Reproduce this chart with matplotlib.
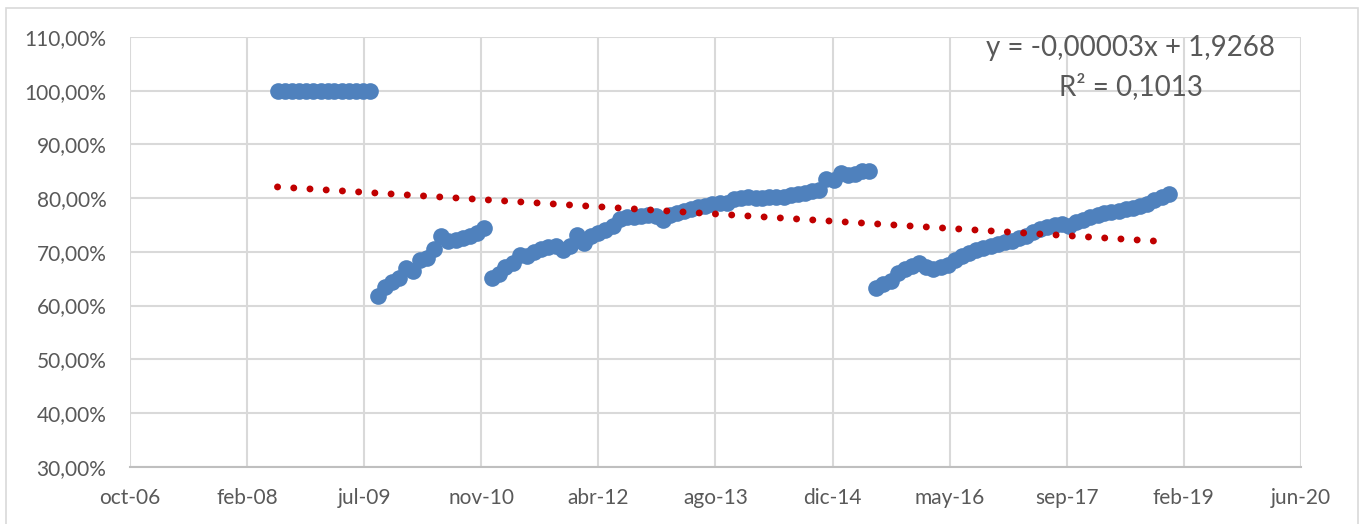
import numpy as np
import pandas as pd
import matplotlib
matplotlib.use("Agg")
import matplotlib.pyplot as plt
from matplotlib.patches import Rectangle

# monthly series, jul-2008 .. dic-2018
start_month = "2008-07"
rate = [
    # 2008-07 .. 2009-08
    100.0, 100.0, 100.0, 100.0, 100.0, 100.0, 100.0,
    100.0, 100.0, 100.0, 100.0, 100.0, 100.0, 100.0,
    # 2009-09 .. 2010-12
    61.8, 63.4, 64.4, 65.2, 67.0, 66.4, 68.5, 68.8,
    70.5, 72.9, 72.1, 72.2, 72.5, 72.9, 73.5, 74.4,
    # 2011-01 .. 2015-06
    65.1, 65.9, 67.2, 67.9, 69.5, 69.2, 69.9, 70.5, 70.9, 71.0,
    70.3, 71.0, 73.2, 71.7, 73.0, 73.5, 74.0, 74.8, 76.1, 76.4,
    76.5, 76.7, 76.8, 76.6, 75.9, 76.8, 77.2, 77.6, 78.0, 78.3,
    78.6, 78.9, 79.1, 79.0, 79.9, 80.1, 80.2, 80.1, 80.0, 80.2,
    80.2, 80.3, 80.5, 80.7, 81.0, 81.3, 81.6, 83.5, 83.3, 84.6,
    84.3, 84.5, 85.0, 85.1,
    # 2015-07 .. 2018-12
    63.3, 64.0, 64.6, 66.1, 66.8, 67.4, 67.9, 67.2, 66.8, 67.1,
    67.6, 68.5, 69.2, 69.8, 70.3, 70.7, 71.0, 71.4, 71.8, 72.0,
    72.5, 72.9, 73.6, 74.2, 74.7, 75.0, 75.2, 74.9, 75.5, 76.0,
    76.4, 76.8, 77.2, 77.4, 77.6, 77.9, 78.2, 78.5, 78.9, 79.6,
    80.3, 80.8,
]

x_ticks = [39000, 39500, 40000, 40500, 41000, 41500, 42000, 42500, 43000, 43500, 44000]
x_labels = ["oct-06", "feb-08", "jul-09", "nov-10", "abr-12", "ago-13",
            "dic-14", "may-16", "sep-17", "feb-19", "jun-20"]
y_ticks = [0.3, 0.4, 0.5, 0.6, 0.7, 0.8, 0.9, 1.0, 1.1]
y_labels = ["30,00%", "40,00%", "50,00%", "60,00%", "70,00%", "80,00%",
            "90,00%", "100,00%", "110,00%"]

eq_text = "y = -0,00003x + 1,9268"
r2_text = "R² = 0,1013"

dates = pd.date_range(start_month, periods=len(rate), freq="MS")
xs = np.array((dates - pd.Timestamp("1899-12-30")).days, dtype=float)
ys = np.array(rate) / 100.0

# linear trend (Excel style)
slope, icpt = np.polyfit(xs, ys, 1)
tx = np.array([xs[0], xs[-1]])
ty = slope * tx + icpt

plt.rcParams["font.family"] = ["Lato", "DejaVu Sans"]
grey_txt = "#595959"
grid_c = "#D9D9D9"

fig = plt.figure(figsize=(13.68, 5.24), dpi=100)
ax = fig.add_axes([0.095, 0.1094, 0.856, 0.82])

ax.plot(xs, ys, "o", color="#4F81BD", ms=12, mew=0, zorder=3)
ax.plot(tx, ty, color="#C00000", lw=5, linestyle=(0, (0.01, 2.33)),
        dash_capstyle="round", zorder=4)

ax.set_xlim(x_ticks[0], x_ticks[-1])
ax.set_ylim(y_ticks[0], y_ticks[-1])
ax.set_xticks(x_ticks)
ax.set_xticklabels(x_labels)
ax.set_yticks(y_ticks)
ax.set_yticklabels(y_labels)
ax.tick_params(axis="both", length=0, labelsize=15, colors=grey_txt)
ax.tick_params(axis="y", pad=17)
ax.tick_params(axis="x", pad=15)
ax.grid(True, color=grid_c, lw=1.5)
ax.set_axisbelow(True)
for s in ["left", "right", "top"]:
    ax.spines[s].set_visible(False)
ax.spines["bottom"].set_color("#BFBFBF")
ax.spines["bottom"].set_linewidth(1.5)

fig.text(1131 / 1368, 1 - 48 / 524, eq_text, ha="center", va="center",
         fontsize=20, color=grey_txt)
fig.text(1131 / 1368, 1 - 87 / 524, r2_text, ha="center", va="center",
         fontsize=20, color=grey_txt)

fig.add_artist(Rectangle((6 / 1368, -0.05), 1352 / 1368, 1 - 8 / 524 + 0.05,
                         transform=fig.transFigure, fill=False,
                         edgecolor="#D9D9D9", lw=1.2))

fig.savefig("out.png", dpi=100)
